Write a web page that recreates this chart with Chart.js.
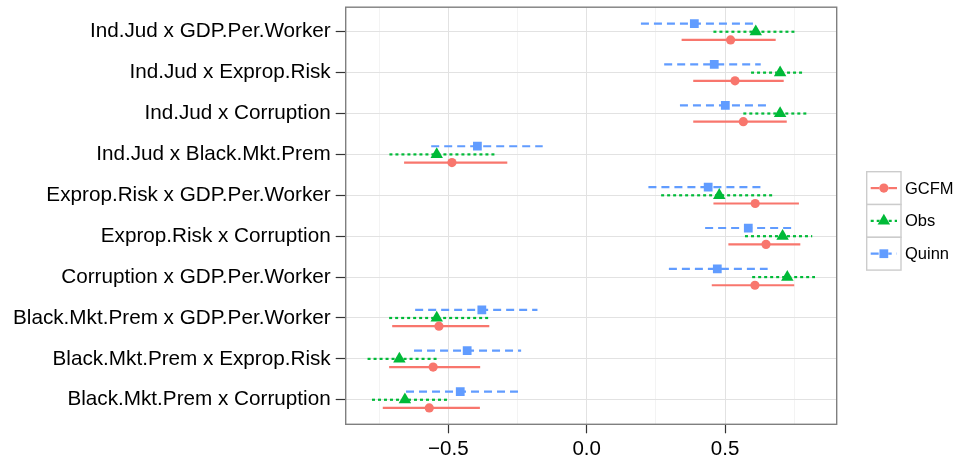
<!DOCTYPE html>
<html>
<head>
<meta charset="utf-8">
<script src="https://cdn.jsdelivr.net/npm/chart.js@4.4.1/dist/chart.umd.min.js"></script>
<style>
html,body{margin:0;padding:0;background:#fff;}
#c{display:block;}
</style>
</head>
<body>
<canvas id="c" width="956" height="461" style="width:956px;height:461px"></canvas>
<script>
const categories = [
  "Ind.Jud x GDP.Per.Worker",
  "Ind.Jud x Exprop.Risk",
  "Ind.Jud x Corruption",
  "Ind.Jud x Black.Mkt.Prem",
  "Exprop.Risk x GDP.Per.Worker",
  "Exprop.Risk x Corruption",
  "Corruption x GDP.Per.Worker",
  "Black.Mkt.Prem x GDP.Per.Worker",
  "Black.Mkt.Prem x Exprop.Risk",
  "Black.Mkt.Prem x Corruption"
];
const seriesNames = ["GCFM", "Obs", "Quinn"];

const gcfmEst = [0.520, 0.536, 0.566, -0.487, 0.609, 0.648, 0.608, -0.534, -0.555, -0.569];
const gcfmLo  = [0.343, 0.385, 0.385, -0.660, 0.458, 0.512, 0.452, -0.703, -0.714, -0.737];
const gcfmHi  = [0.683, 0.712, 0.723, -0.287, 0.767, 0.772, 0.750, -0.352, -0.385, -0.386];

const obsEst = [0.611, 0.699, 0.699, -0.542, 0.479, 0.708, 0.725, -0.542, -0.677, -0.657];
const obsLo  = [0.458, 0.594, 0.566, -0.713, 0.269, 0.572, 0.598, -0.714, -0.792, -0.776];
const obsHi  = [0.755, 0.789, 0.803, -0.328, 0.672, 0.815, 0.825, -0.346, -0.533, -0.502];

const quinnEst = [0.389, 0.461, 0.501, -0.395, 0.439, 0.584, 0.472, -0.379, -0.432, -0.457];
const quinnLo  = [0.196, 0.280, 0.337, -0.562, 0.223, 0.428, 0.297, -0.620, -0.624, -0.653];
const quinnHi  = [0.608, 0.629, 0.660, -0.159, 0.641, 0.749, 0.654, -0.178, -0.237, -0.244];

const xTicks = [-0.75, -0.5, -0.25, 0, 0.25, 0.5, 0.75];
const xMajor = [-0.5, 0, 0.5];

// styles
const FONT = "'Liberation Sans', Arial, Helvetica, sans-serif";
const styles = [
  {color:"#F8766D", dash:[], point:"circle", radius:4.6, dodge:0.2},
  {color:"#00BA38", dash:[3,3], point:"triangle", radius:7.2, dodge:0.0},
  {color:"#619CFF", dash:[8,5], point:"rect", radius:6.2, dodge:-0.2}
];
const seriesData = [
  {est:gcfmEst, lo:gcfmLo, hi:gcfmHi},
  {est:obsEst, lo:obsLo, hi:obsHi},
  {est:quinnEst, lo:quinnLo, hi:quinnHi}
];

const datasets = seriesData.map((s, k) => ({
  label: seriesNames[k],
  type: 'scatter',
  data: s.est.map((v, i) => ({x: v, y: i + styles[k].dodge})),
  backgroundColor: styles[k].color,
  borderColor: styles[k].color,
  borderWidth: 0,
  pointStyle: styles[k].point,
  pointRadius: styles[k].radius,
  pointHoverRadius: styles[k].radius
}));

const whiskerPlugin = {
  id: 'whiskers',
  beforeDatasetsDraw(chart) {
    const ctx = chart.ctx, xs = chart.scales.x, ys = chart.scales.y;
    ctx.save();
    seriesData.forEach((s, k) => {
      ctx.strokeStyle = styles[k].color;
      ctx.lineWidth = 2.2;
      ctx.setLineDash(styles[k].dash);
      ctx.lineCap = 'butt';
      s.est.forEach((v, i) => {
        const y = ys.getPixelForValue(i + styles[k].dodge);
        ctx.beginPath();
        ctx.moveTo(xs.getPixelForValue(s.lo[i]), y);
        ctx.lineTo(xs.getPixelForValue(s.hi[i]), y);
        ctx.stroke();
      });
    });
    ctx.restore();
  },
  afterDraw(chart) {
    const ctx = chart.ctx, a = chart.chartArea;
    ctx.save();
    ctx.strokeStyle = '#7f7f7f';
    ctx.lineWidth = 1.4;
    ctx.strokeRect(a.left, a.top, a.right - a.left, a.bottom - a.top);
    // legend
    const kx = 866.7, kw = 34.3, ky0 = 171.7, kh = 32.8;
    seriesNames.forEach((name, k) => {
      const top = ky0 + k * kh;
      ctx.fillStyle = '#ffffff';
      ctx.fillRect(kx, top, kw, kh);
      ctx.strokeStyle = '#cccccc';
      ctx.lineWidth = 1.4;
      ctx.setLineDash([]);
      ctx.strokeRect(kx, top, kw, kh);
      const cy = top + kh / 2, cx = kx + kw / 2;
      ctx.strokeStyle = styles[k].color;
      ctx.lineWidth = 2.2;
      ctx.setLineDash(styles[k].dash);
      ctx.beginPath();
      ctx.moveTo(kx + 4, cy);
      ctx.lineTo(kx + kw - 4, cy);
      ctx.stroke();
      ctx.setLineDash([]);
      Chart.helpers.drawPoint(ctx, {pointStyle: styles[k].point, radius: styles[k].radius, rotation: 0, borderWidth: 0}, cx, cy);
      ctx.fillStyle = styles[k].color;
      ctx.fill();
      ctx.fillStyle = '#000';
      ctx.font = '16.5px ' + FONT;
      ctx.textAlign = 'left';
      ctx.textBaseline = 'middle';
      ctx.fillText(name, 905, cy + 1);
    });
    ctx.restore();
  }
};

function zeroPad(scale) {
  scale.paddingTop = 0; scale.paddingBottom = 0;
  scale.paddingLeft = 0; scale.paddingRight = 0;
}

new Chart(document.getElementById('c'), {
  type: 'scatter',
  data: { datasets },
  options: {
    responsive: false,
    animation: false,
    devicePixelRatio: 1,
    layout: { padding: { top: 6.7, right: 119.3, left: 0, bottom: 0 } },
    plugins: { legend: { display: false }, tooltip: { enabled: false } },
    scales: {
      x: {
        type: 'linear',
        min: -0.871,
        max: 0.9035,
        afterBuildTicks(scale) { scale.ticks = xTicks.map(v => ({value: v})); },
        afterFit(scale) { scale.height = 36.7; zeroPad(scale); },
        border: { display: false },
        grid: {
          color: c => xMajor.includes(c.tick && c.tick.value) ? '#e2e2e2' : '#f3f3f3',
          lineWidth: 1,
          tickLength: 9,
          tickColor: c => xMajor.includes(c.tick && c.tick.value) ? '#333333' : 'rgba(0,0,0,0)',
          tickWidth: 1.2
        },
        ticks: {
          autoSkip: false,
          maxRotation: 0,
          padding: 4,
          color: '#000',
          font: { family: FONT, size: 20.5 },
          callback: v => xMajor.includes(v) ? (v < 0 ? '\u2212' + Math.abs(v).toFixed(1) : v.toFixed(1)) : ''
        }
      },
      y: {
        type: 'linear',
        reverse: true,
        min: -0.6,
        max: 9.6,
        afterBuildTicks(scale) { scale.ticks = categories.map((c, i) => ({value: i})); },
        afterFit(scale) { scale.width = 345.7; zeroPad(scale); },
        border: { display: false },
        grid: {
          color: '#e2e2e2',
          lineWidth: 1,
          tickLength: 10,
          tickColor: '#333333',
          tickWidth: 1.2
        },
        ticks: {
          autoSkip: false,
          padding: 5,
          color: '#000',
          font: { family: FONT, size: 20.7 },
          callback: v => categories[v]
        }
      }
    }
  },
  plugins: [whiskerPlugin]
});
</script>
</body>
</html>
